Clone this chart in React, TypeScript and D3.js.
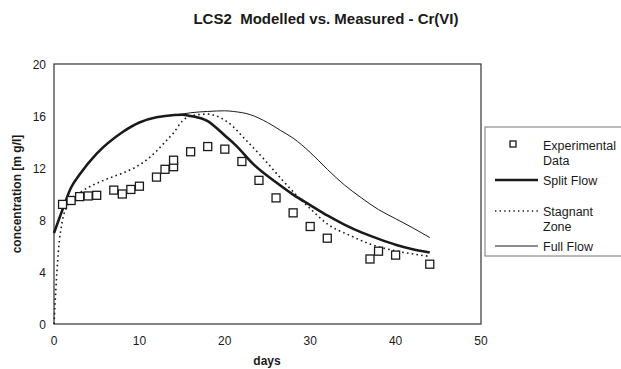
import React from "react";
import * as d3 from "d3";

const expDays = [1, 2, 3, 4, 5, 7, 8, 9, 10, 12, 13, 14, 14, 16, 18, 20, 22, 24, 26, 28, 30, 32, 37, 38, 40, 44];
const expVals = [9.2, 9.5, 9.8, 9.85, 9.9, 10.3, 10.0, 10.35, 10.6, 11.3, 11.9, 12.1, 12.6, 13.25, 13.65, 13.45, 12.5, 11.05, 9.7, 8.55, 7.5, 6.6, 5.0, 5.6, 5.3, 4.6];

const splitDays = [0, 1, 2, 3, 5, 8, 10, 12, 13, 15, 16, 18, 19, 20, 21.2, 23.5, 26, 28, 30, 32, 34, 36, 38, 40, 42, 44];
const splitVals = [7.0, 8.8, 10.5, 11.5, 13.1, 14.75, 15.5, 15.9, 16.0, 16.1, 16.0, 15.6, 15.1, 14.5, 13.8, 12.2, 10.9, 9.95, 9.15, 8.35, 7.65, 7.05, 6.55, 6.1, 5.75, 5.5];

const stagDays = [0, 0.2, 0.5, 1, 1.5, 2, 3, 4, 6, 8, 9.5, 11, 12, 13, 14, 15, 16, 18, 19, 20.4, 22.4, 24.7, 26.7, 29, 30.2, 32, 34.7, 37, 41, 44];
const stagVals = [0, 2.5, 5.5, 8.0, 9.0, 9.6, 10.1, 10.5, 11.1, 11.6, 12.05, 12.7, 13.3, 14.0, 14.7, 15.6, 16.0, 16.15, 16.0, 15.5, 14.2, 12.6, 11.1, 9.5, 8.75, 7.7, 6.8, 6.15, 5.5, 5.2];

const fullDays = [0, 1, 2, 3, 5, 8, 10, 12, 13, 15, 16, 18, 20, 21, 23, 25, 26.5, 28, 30, 32, 34, 36, 38, 40, 42, 44];
const fullVals = [7.0, 8.8, 10.5, 11.5, 13.1, 14.75, 15.5, 15.9, 16.0, 16.15, 16.25, 16.35, 16.4, 16.35, 16.1, 15.5, 14.9, 14.3, 13.2, 11.9, 10.7, 9.7, 8.8, 8.1, 7.4, 6.65];

const xTicks = [0, 10, 20, 30, 40, 50];
const yTicks = [0, 4, 8, 12, 16, 20];

const legendLabels = ["Experimental", "Data", "Split Flow", "Stagnant", "Zone", "Full Flow"];

const W = 621;
const H = 369;
const L = 54, R = 481, T = 64, B = 324;
const font = "'Liberation Sans', Arial, sans-serif";

export default function App() {
  const x = d3.scaleLinear().domain([0, 50]).range([L, R]);
  const y = d3.scaleLinear().domain([0, 20]).range([B, T]);
  const line = d3
    .line<[number, number]>()
    .x((d) => x(d[0]))
    .y((d) => y(d[1]))
    .curve(d3.curveMonotoneX);
  const zip = (a: number[], b: number[]) => a.map((v, i) => [v, b[i]] as [number, number]);

  const ink = "#1a1a1a";
  const lx = 543;
  const lfs = 12.5;
  return (
    <svg
      width={W}
      height={H}
      style={{ position: "absolute", left: 0, top: 0, background: "#fff" }}
      fontFamily={font}
    >
      <rect x={0} y={0} width={W} height={H} fill="#fff" />
      <text x={326} y={24} textAnchor="middle" fontSize={15} fontWeight="bold" fill={ink}>
        LCS2{"\u00a0\u00a0"}Modelled vs. Measured - Cr(VI)
      </text>
      <rect x={L} y={T} width={R - L} height={B - T} fill="none" stroke="#333" strokeWidth={1.2} />
      {xTicks.map((t) => (
        <text key={"x" + t} x={x(t)} y={B + 21} textAnchor="middle" fontSize={12} fill={ink}>
          {t}
        </text>
      ))}
      {yTicks.map((t) => (
        <text key={"y" + t} x={L - 8} y={y(t) + 2} textAnchor="end" fontSize={12} fill={ink} dominantBaseline="middle">
          {t}
        </text>
      ))}
      <text x={267} y={365} textAnchor="middle" fontSize={12} fontWeight="bold" fill={ink}>
        days
      </text>
      <text
        transform={`translate(21,${(T + B) / 2}) rotate(-90)`}
        textAnchor="middle"
        fontSize={12}
        fontWeight="bold"
        fill={ink}
      >
        concentration [m g/l]
      </text>

      <path d={line(zip(fullDays, fullVals)) || ""} fill="none" stroke={ink} strokeWidth={1} />
      <path d={line(zip(stagDays, stagVals)) || ""} fill="none" stroke={ink} strokeWidth={1.6} strokeDasharray="1.6,3.2" />
      <path d={line(zip(splitDays, splitVals)) || ""} fill="none" stroke={ink} strokeWidth={2.6} />

      {expDays.map((d, i) => (
        <rect
          key={"e" + i}
          x={x(d) - 4}
          y={y(expVals[i]) - 4}
          width={8}
          height={8}
          fill="#fff"
          stroke={ink}
          strokeWidth={1.3}
        />
      ))}

      <rect x={485} y={127} width={150} height={129} fill="#fff" stroke="#777" strokeWidth={1} />
      <rect x={510} y={141} width={6} height={6} fill="#fff" stroke={ink} strokeWidth={1.3} />
      <line x1={495} x2={538} y1={180} y2={180} stroke={ink} strokeWidth={2.6} />
      <line x1={495} x2={538} y1={211} y2={211} stroke={ink} strokeWidth={1.4} strokeDasharray="1.4,3.2" />
      <line x1={495} x2={538} y1={246} y2={246} stroke={ink} strokeWidth={1} />
      <text x={lx} y={149.5} fontSize={lfs} fill={ink}>{legendLabels[0]}</text>
      <text x={lx} y={164.5} fontSize={lfs} fill={ink}>{legendLabels[1]}</text>
      <text x={lx} y={184.5} fontSize={lfs} fill={ink}>{legendLabels[2]}</text>
      <text x={lx} y={215.5} fontSize={lfs} fill={ink}>{legendLabels[3]}</text>
      <text x={lx} y={230.5} fontSize={lfs} fill={ink}>{legendLabels[4]}</text>
      <text x={lx} y={250.5} fontSize={lfs} fill={ink}>{legendLabels[5]}</text>
    </svg>
  );
}
